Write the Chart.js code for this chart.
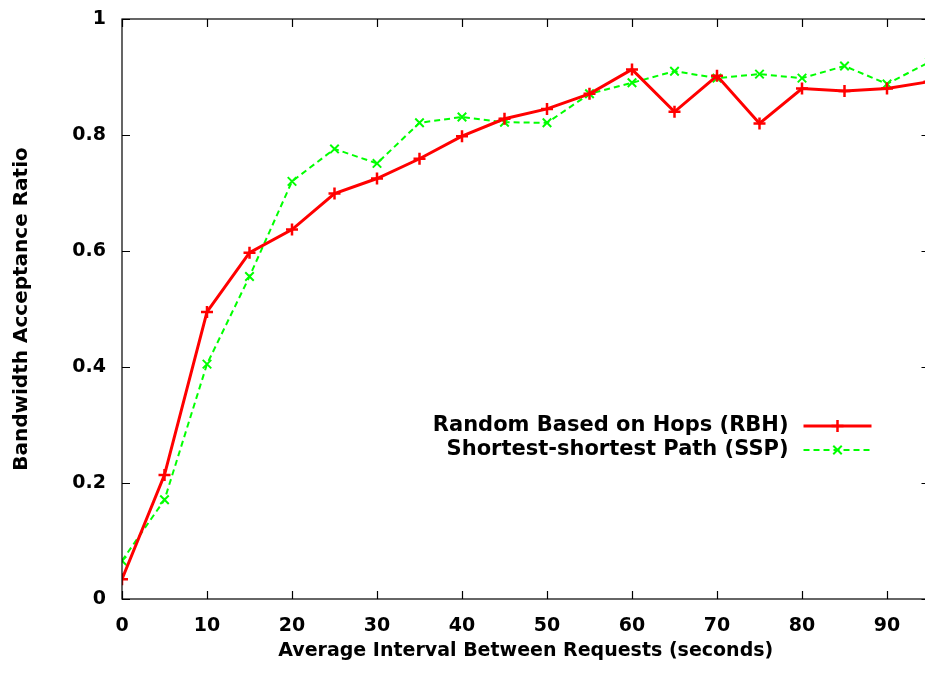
<!DOCTYPE html>
<html>
<head>
<meta charset="utf-8">
<script src="https://cdn.jsdelivr.net/npm/chart.js@4.4.1/dist/chart.umd.min.js"></script>
<style>
  html, body { margin: 0; padding: 0; background: #fff; overflow: hidden; }
  /* a bit wider than the window: the right edge of the frame sits just outside the photo */
  #wrap { width: 938px; height: 677px; }
</style>
</head>
<body>
<div id="wrap"><canvas id="c" width="938" height="677"></canvas></div>
<script>
// data
var intervals = [0, 5, 10, 15, 20, 25, 30, 35, 40, 45, 50, 55, 60, 65, 70, 75, 80, 85, 90, 95];
var rbh = [0.034, 0.214, 0.495, 0.597, 0.637, 0.699, 0.725, 0.759, 0.798, 0.828, 0.845, 0.871, 0.913, 0.840, 0.902, 0.820, 0.880, 0.876, 0.880, 0.892];
var ssp = [0.066, 0.171, 0.405, 0.556, 0.720, 0.776, 0.751, 0.821, 0.831, 0.822, 0.821, 0.871, 0.890, 0.910, 0.898, 0.905, 0.898, 0.919, 0.888, 0.926];
var xTicks = [0, 10, 20, 30, 40, 50, 60, 70, 80, 90];
var yTicks = [0, 0.2, 0.4, 0.6, 0.8, 1];

var FONT = '"DejaVu Sans", Verdana, sans-serif';

function pts(ys) {
    return intervals.map(function(x, i) { return { x: x, y: ys[i] }; });
}

// gnuplot-style frame: inward ticks on all four sides
var frame = {
    id: 'frame',
    afterDatasetsDraw: function(chart) {
        var ctx = chart.ctx, a = chart.chartArea;
        var xs = chart.scales.x, ys = chart.scales.y, L = 8;
        ctx.save();
        ctx.strokeStyle = '#000';
        ctx.lineWidth = 1.2;
        ctx.strokeRect(a.left, a.top, a.right - a.left, a.bottom - a.top);
        ctx.beginPath();
        xTicks.forEach(function(v) {
            var p = Math.round(xs.getPixelForValue(v)) + 0.5;
            ctx.moveTo(p, a.bottom); ctx.lineTo(p, a.bottom - L);
            ctx.moveTo(p, a.top); ctx.lineTo(p, a.top + L);
        });
        yTicks.forEach(function(v) {
            var p = Math.round(ys.getPixelForValue(v)) + 0.5;
            ctx.moveTo(a.left, p); ctx.lineTo(a.left + L, p);
            ctx.moveTo(a.right, p); ctx.lineTo(a.right - L, p);
        });
        ctx.stroke();
        ctx.restore();
    }
};

// key inside the plot, text right aligned before the sample line
var key = {
    id: 'key',
    afterDraw: function(chart) {
        var ctx = chart.ctx, a = chart.chartArea;
        var lineEnd = a.right - 58, lineStart = lineEnd - 68, textRight = lineStart - 15;
        ctx.save();
        ctx.font = 'bold 21px ' + FONT;
        ctx.textAlign = 'right';
        ctx.textBaseline = 'middle';
        chart.data.datasets.forEach(function(ds, i) {
            var y = 426 + i * 24;
            ctx.fillStyle = '#000';
            ctx.fillText(ds.label, textRight, y);
            ctx.strokeStyle = ds.borderColor;
            ctx.lineWidth = ds.borderWidth;
            ctx.setLineDash(ds.borderDash || []);
            ctx.beginPath();
            ctx.moveTo(lineStart, y); ctx.lineTo(lineEnd, y);
            ctx.stroke();
            ctx.setLineDash([]);
            ctx.lineWidth = ds.pointBorderWidth;
            Chart.helpers.drawPoint(ctx, {
                pointStyle: ds.pointStyle, radius: ds.pointRadius, borderWidth: ds.pointBorderWidth
            }, (lineStart + lineEnd) / 2, y);
        });
        ctx.restore();
    }
};

function noPad(s) { s.paddingTop = 0; s.paddingBottom = 0; s.paddingLeft = 0; s.paddingRight = 0; }

new Chart(document.getElementById('c').getContext('2d'), {
    type: 'line',
    data: {
        datasets: [{
            label: 'Random Based on Hops (RBH)',
            data: pts(rbh),
            borderColor: '#ff0000',
            backgroundColor: '#ff0000',
            borderWidth: 3,
            pointStyle: 'cross',
            pointRadius: 6,
            pointBorderWidth: 2.5,
            pointBorderColor: '#ff0000',
            tension: 0
        }, {
            label: 'Shortest-shortest Path (SSP)',
            data: pts(ssp),
            borderColor: '#00ff00',
            backgroundColor: '#00ff00',
            borderWidth: 2,
            borderDash: [6, 4],
            pointStyle: 'crossRot',
            pointRadius: 6,
            pointBorderWidth: 2,
            pointBorderColor: '#00ff00',
            tension: 0
        }]
    },
    options: {
        responsive: false,
        animation: false,
        layout: { padding: { top: 19, right: 1, left: 0, bottom: 0 } },
        plugins: { legend: { display: false }, tooltip: { enabled: false } },
        scales: {
            x: {
                type: 'linear', min: 0, max: 95,
                grid: { display: false },
                border: { display: false },
                afterBuildTicks: function(s) { s.ticks = xTicks.map(function(v) { return { value: v }; }); },
                afterFit: function(s) { s.height = 78; noPad(s); },
                ticks: { color: '#000', padding: 8, maxRotation: 0, font: { family: FONT, size: 19, weight: 'bold' } },
                title: { display: true, text: 'Average Interval Between Requests (seconds)', color: '#000',
                         padding: { top: 0, bottom: 15 }, font: { family: FONT, size: 19, weight: 'bold' } }
            },
            y: {
                min: 0, max: 1,
                grid: { display: false },
                border: { display: false },
                afterBuildTicks: function(s) { s.ticks = yTicks.map(function(v) { return { value: v }; }); },
                afterFit: function(s) { s.width = 122; noPad(s); },
                ticks: { color: '#000', padding: 8, font: { family: FONT, size: 19, weight: 'bold' },
                         callback: function(v) { return String(v); } },
                title: { display: true, text: 'Bandwidth Acceptance Ratio', color: '#000',
                         padding: { top: 10, bottom: 0 }, font: { family: FONT, size: 20, weight: 'bold' } }
            }
        }
    },
    plugins: [frame, key]
});
</script>
</body>
</html>
